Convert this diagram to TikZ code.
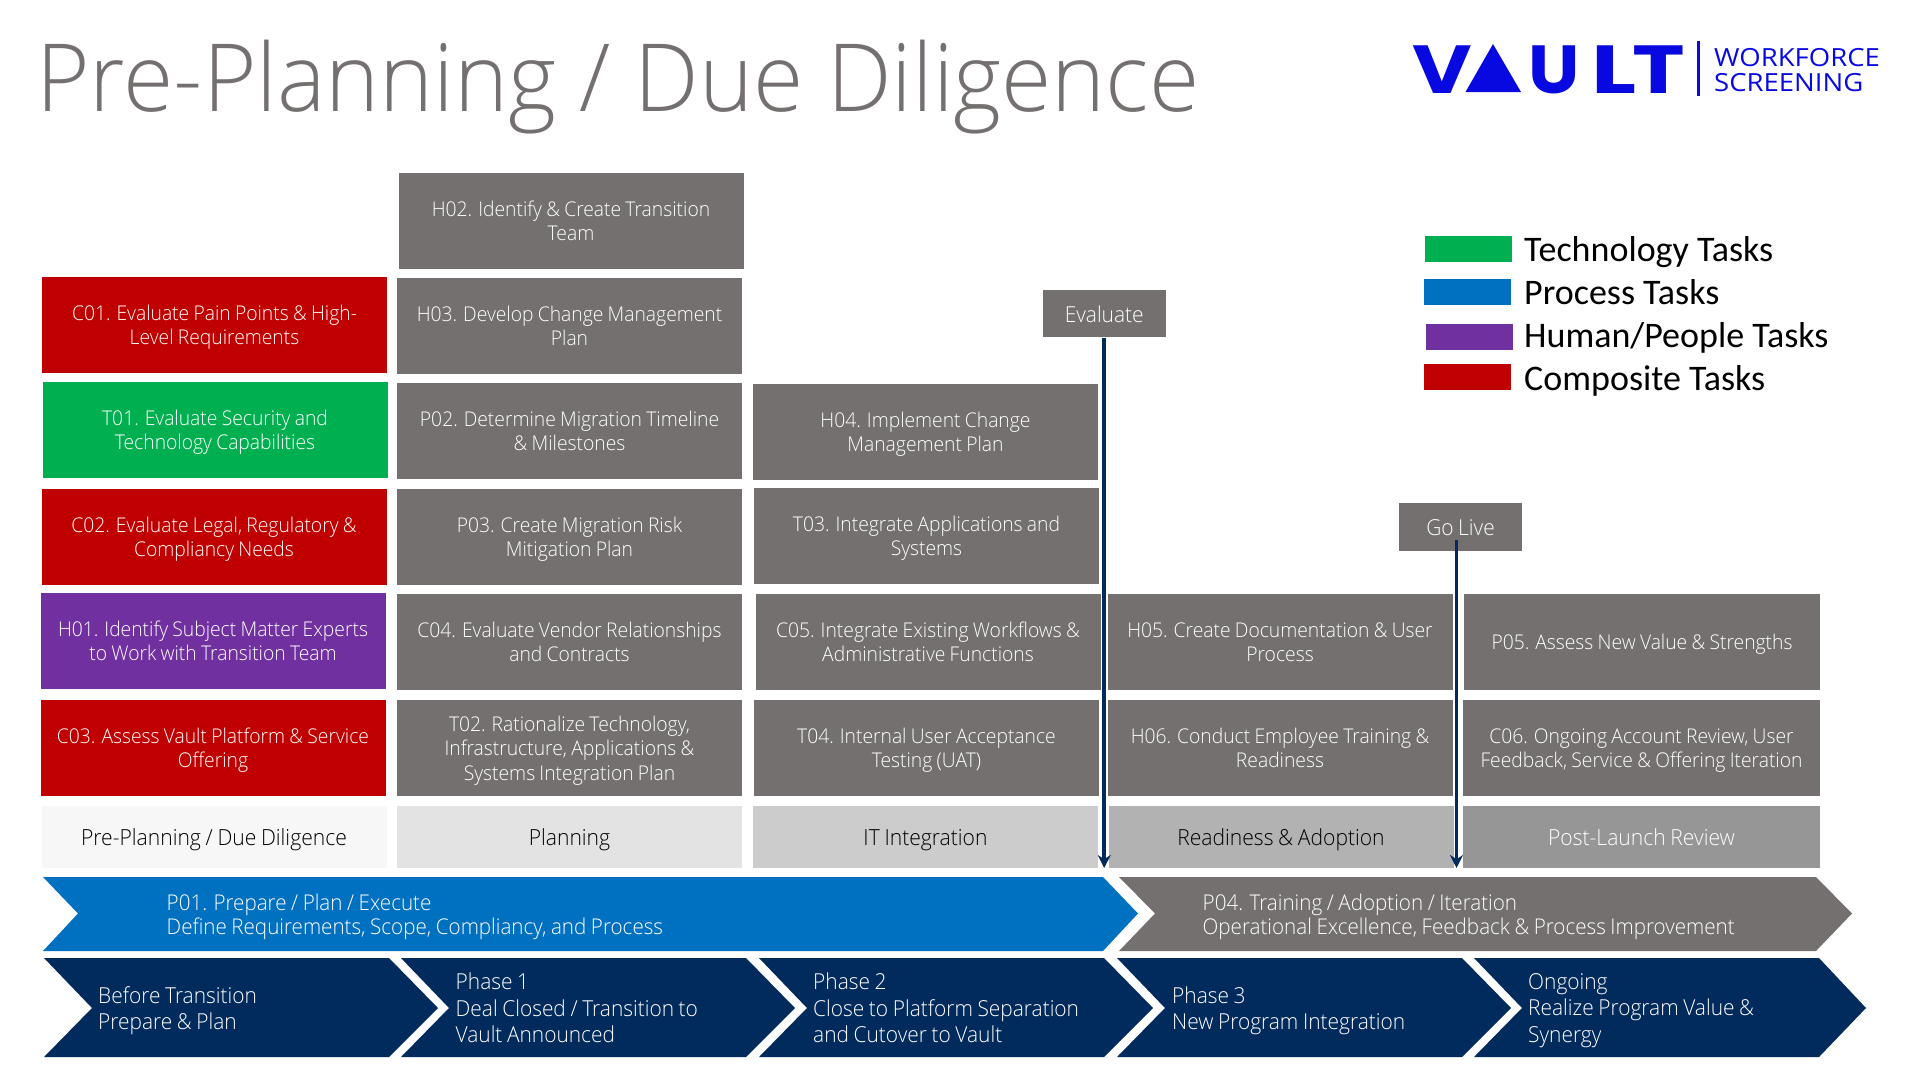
\documentclass[tikz,border=0pt]{standalone}
\usepackage{fontspec}
\usepackage{xcolor}
\setmainfont{Open Sans}
\newfontfamily\thinfont[FakeStretch=0.95,WordSpace=0.85]{Open Sans Light}
\newfontfamily\headfont[FakeStretch=0.973]{Open Sans Light}
\newfontfamily\logofont{Poppins}
\newfontfamily\logoword[FakeStretch=1.1]{Open Sans}
\newfontfamily\legendfont{Carlito}
\usetikzlibrary{arrows.meta}

\definecolor{taskgrey}{HTML}{757070}
\definecolor{taskred}{HTML}{C00000}
\definecolor{taskgreen}{HTML}{00B050}
\definecolor{taskblue}{HTML}{0070C0}
\definecolor{taskpurple}{HTML}{7030A0}
\definecolor{phasenavy}{HTML}{002B5C}
\definecolor{logoblue}{HTML}{0808E0}

\tikzset{
  taskbox/.style={rectangle, fill=taskgrey, text=white, minimum width=345pt, minimum height=96pt,
    inner sep=0pt, align=center, text depth=0pt, font=\thinfont\fontsize{20.3}{24.4}\selectfont},
  phasehead/.style={taskbox, minimum height=62pt, font=\thinfont\fontsize{22.2}{24.4}\selectfont},
  gatebox/.style={taskbox, minimum width=123pt, minimum height=47.5pt, font=\thinfont\fontsize{22}{24.4}\selectfont},
  bandtext/.style={anchor=west, inner sep=0pt, align=left, text=white, text depth=0pt,
    font=\thinfont\fontsize{21.7}{24}\selectfont},
  steptext/.style={bandtext, font=\thinfont\fontsize{22}{26.6}\selectfont},
  swatch/.style={rectangle, minimum width=87pt, minimum height=26pt, inner sep=0pt},
  legendtext/.style={anchor=base west, inner sep=0pt, font=\legendfont\fontsize{36}{40}\selectfont},
  logoletter/.style={anchor=base, inner sep=0pt, transform shape, text=logoblue,
    font=\logofont\bfseries\fontsize{68}{68}\selectfont},
  logotext/.style={anchor=base west, inner sep=0pt, align=left, text=logoblue,
    font=\logoword\fontsize{25}{25}\selectfont},
  milestone/.style={draw=phasenavy, line width=3.7pt, -{Stealth[length=13pt,width=13pt]}}
}

\begin{document}
\begin{tikzpicture}[x=1pt,y=-1pt]
  \useasboundingbox (0,0) rectangle (1920,1080);

  % heading
  \node[anchor=base west, inner sep=0pt, text=taskgrey, font=\headfont\fontsize{94}{94}\selectfont]
    (heading) at (36,111) {Pre-Planning / Due Diligence};

  % logo
  \node[logoletter, xscale=1.2] (logoV) at (1442,93) {V};
  \fill[logoblue] (1465.5,92) -- (1493,44) -- (1521,92) -- cycle;
  \node[logoletter, xscale=1.07] (logoU) at (1554,93) {U};
  \node[logoletter, xscale=1.39] (logoL) at (1614,93) {L};
  \node[logoletter, xscale=1.31] (logoT) at (1659,93) {T};
  \fill[logoblue] (1697,41) rectangle (1699.5,96);
  \node[logotext] (logoname) at (1714,91) {WORKFORCE\\SCREENING};

  % legend
  \node[swatch, fill=taskgreen] (swtech) at (1468.5,249) {};
  \node[swatch, fill=taskblue] (swproc) at (1467.5,292) {};
  \node[swatch, fill=taskpurple] (swhuman) at (1469,337) {};
  \node[swatch, fill=taskred] (swcomp) at (1467.5,377) {};
  \node[legendtext] (lgtech) at (1524,261) {Technology Tasks};
  \node[legendtext] (lgproc) at (1524,304) {Process Tasks};
  \node[legendtext] (lghuman) at (1524,347.5) {Human/People Tasks};
  \node[legendtext] (lgcomp) at (1524,390) {Composite Tasks};

  % first column
  \node[taskbox, fill=taskred] (C01) at (214.5,324.5) {C01. Evaluate Pain Points \& High-\\Level Requirements};
  \node[taskbox, fill=taskgreen] (T01) at (215,430) {T01. Evaluate Security and\\Technology Capabilities};
  \node[taskbox, fill=taskred] (C02) at (214,537) {C02. Evaluate Legal, Regulatory \&\\Compliancy Needs};
  \node[taskbox, fill=taskpurple] (H01) at (213,641) {H01. Identify Subject Matter Experts\\to Work with Transition Team};
  \node[taskbox, fill=taskred] (C03) at (213,748) {C03. Assess Vault Platform \& Service\\Offering};

  % second column
  \node[taskbox] (H02) at (571,220.5) {H02. Identify \& Create Transition\\Team};
  \node[taskbox] (H03) at (569.5,326) {H03. Develop Change Management\\Plan};
  \node[taskbox] (P02) at (569.5,431) {P02. Determine Migration Timeline\\\& Milestones};
  \node[taskbox] (P03) at (569.5,537) {P03. Create Migration Risk\\Mitigation Plan};
  \node[taskbox] (C04) at (569.5,642) {C04. Evaluate Vendor Relationships\\and Contracts};
  \node[taskbox] (T02) at (569.5,748) {T02. Rationalize Technology,\\Infrastructure, Applications \&\\Systems Integration Plan};

  % third column
  \node[taskbox] (H04) at (925.5,432) {H04. Implement Change\\Management Plan};
  \node[taskbox] (T03) at (926.5,536) {T03. Integrate Applications and\\Systems};
  \node[taskbox] (C05) at (928,642) {C05. Integrate Existing Workflows \&\\Administrative Functions};
  \node[taskbox] (T04) at (926.5,748) {T04. Internal User Acceptance\\Testing (UAT)};

  % fourth and fifth column
  \node[taskbox] (H05) at (1280,642) {H05. Create Documentation \& User\\Process};
  \node[taskbox] (H06) at (1280,748) {H06. Conduct Employee Training \&\\Readiness};
  \node[taskbox, minimum width=356pt] (P05) at (1642,642) {P05. Assess New Value \& Strengths};
  \node[taskbox, minimum width=357pt] (C06) at (1641.5,748) {C06. Ongoing Account Review, User\\Feedback, Service \& Offering Iteration};

  % stage headers
  \node[phasehead, fill=black!3, text=black] (stage1) at (214,837) {Pre-Planning / Due Diligence};
  \node[phasehead, fill=black!11, text=black] (stage2) at (569.5,837) {Planning};
  \node[phasehead, fill=black!20, text=black] (stage3) at (925.5,837) {IT Integration};
  \node[phasehead, fill=black!30, text=black] (stage4) at (1281,837) {Readiness \& Adoption};
  \node[phasehead, fill=black!41, minimum width=357pt] (stage5) at (1641.5,837) {Post-Launch Review};

  % go/no-go markers
  \node[gatebox] (evaluate) at (1104.2,313.7) {Evaluate};
  \node[gatebox] (golive) at (1460.5,527.2) {Go Live};
  \coordinate (evalend) at (1104.2,868);
  \coordinate (livestart) at (1456.5,540);
  \coordinate (liveend) at (1456.5,868);
  \draw[milestone] (evaluate.south) -- (evalend);
  \draw[milestone] (livestart) -- (liveend);

  % work bands
  \fill[taskblue] (43,877) -- (1103,877) -- (1138,913.5) -- (1103,951) -- (43,951) -- (78,913.5) -- cycle;
  \fill[taskgrey] (1119,877) -- (1816,877) -- (1852,913.5) -- (1816,951) -- (1119,951) -- (1155,913.5) -- cycle;
  \node[bandtext] (P01) at (166.5,914) {P01. Prepare / Plan / Execute\\Define Requirements, Scope, Compliancy, and Process};
  \node[bandtext] (P04) at (1202.5,914) {P04. Training / Adoption / Iteration\\Operational Excellence, Feedback \& Process Improvement};

  % timeline chevrons
  \foreach \lft/\ntch/\rgt/\tip in {44/92/389/438, 401/449/746/795, 759/807/1104/1153, 1117/1165/1462/1511, 1474/1522/1819/1866}
    \fill[phasenavy] (\lft,958) -- (\rgt,958) -- (\tip,1008) -- (\rgt,1057) -- (\lft,1057) -- (\ntch,1008) -- cycle;
  \node[steptext] (before) at (98,1008) {Before Transition\\Prepare \& Plan};
  \node[steptext] (phase1) at (455.5,1008) {Phase 1\\Deal Closed / Transition to\\Vault Announced};
  \node[steptext] (phase2) at (813,1008) {Phase 2\\Close to Platform Separation\\and Cutover to Vault};
  \node[steptext] (phase3) at (1172,1008) {Phase 3\\New Program Integration};
  \node[steptext] (ongoing) at (1528,1008) {Ongoing\\Realize Program Value \&\\Synergy};
\end{tikzpicture}
\end{document}
